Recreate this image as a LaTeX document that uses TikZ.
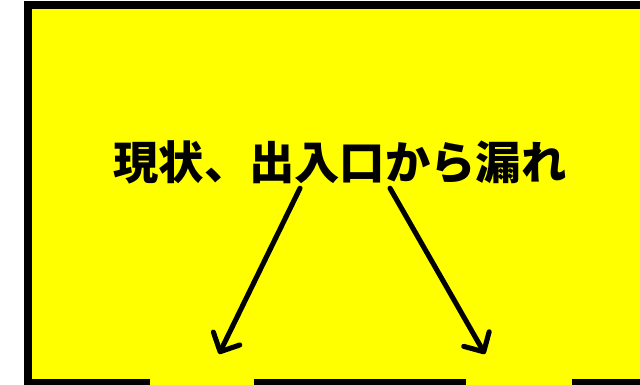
\documentclass[tikz,border=0pt]{standalone}
\usepackage{fontspec}
\usepackage{tikz}
\usetikzlibrary{arrows.meta}
\newfontfamily\cjk{Noto Sans CJK JP}
\definecolor{roomyellow}{RGB}{255,255,0}
\tikzset{every picture/.style={line width=0.75pt}}
\tikzset{
  wall/.style={line width=6pt, line cap=butt},
  leak/.style={line width=3.8pt, line cap=round, line join=round,
    -{Straight Barb[length=11pt,width=22pt,round]}},
}

\begin{document}
\begin{tikzpicture}[x=0.75pt,y=0.75pt,yscale=-1,xscale=1]
\useasboundingbox (0,0) rectangle (640,385);
\clip (0,0) rectangle (640,385);

%Shape: Rectangle (room)
\fill [roomyellow] (28,5.5) rectangle (700,400);
%Walls
\draw [wall] (150,383) -- (28,383) -- (28,5.5) -- (700,5.5) ;
\draw [wall] (254,383) -- (466,383) ;
\draw [wall] (572,383) -- (700,383) ;

%Doors
\coordinate (door1) at (219,354);
\coordinate (door2) at (485,354);

% Text Node
\node (label) at (340,162) [inner sep=0pt] {\cjk\bfseries\fontsize{34}{40}\selectfont 現状、出入口から漏れ};

%Arrows
\draw [leak] ([xshift=-30,yshift=3]label.south) -- (door1) ;
\draw [leak] ([xshift=37.5,yshift=3]label.south) -- (door2) ;

\end{tikzpicture}
\end{document}
